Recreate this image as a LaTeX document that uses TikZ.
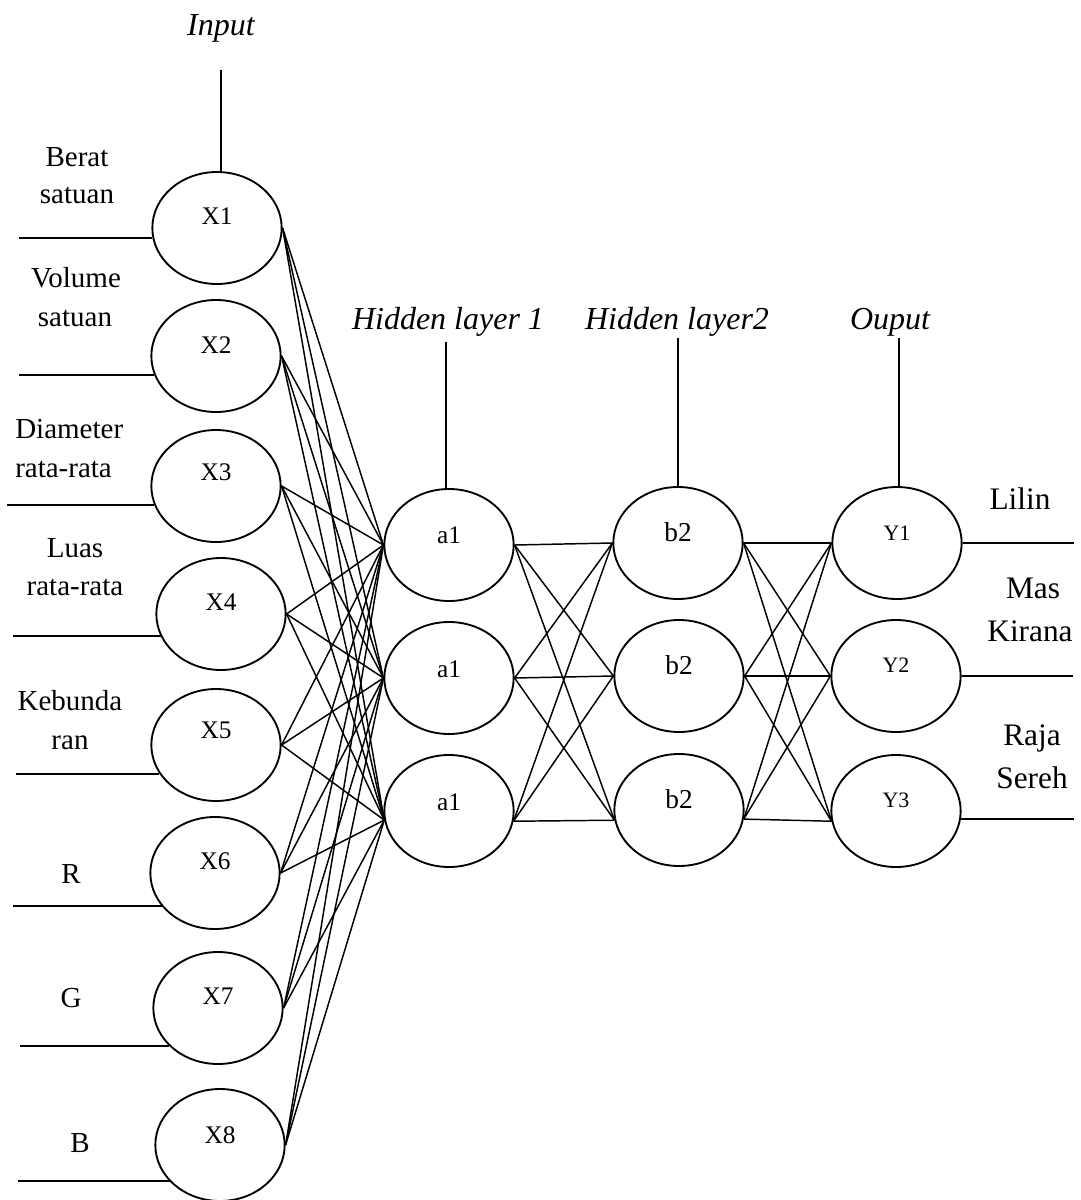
\documentclass[tikz,border=0pt]{standalone}
\usepackage{fontspec}
\setmainfont{Liberation Serif}
\usetikzlibrary{shapes.geometric}
\begin{document}
\begin{tikzpicture}[x=0.75pt,y=-0.75pt,
  neuron/.style={ellipse, draw, line width=1.4pt, minimum width=97pt,
    minimum height=84pt, inner sep=0pt, text height=0pt, text depth=#1},
  neuron/.default=6pt,
  xfont/.style={font=\fontsize{19}{22}\selectfont},
  afont/.style={font=\fontsize{19}{22}\selectfont},
  bfont/.style={font=\fontsize{20.5}{24}\selectfont},
  yfont/.style={font=\fontsize{16.5}{20}\selectfont},
  lbl/.style={anchor=base, inner sep=0pt, font=\fontsize{21.75}{26}\selectfont},
  rlbl/.style={anchor=base, inner sep=0pt, font=\fontsize{23.5}{28}\selectfont},
  layercap/.style={anchor=base, inner sep=0pt, font=\fontsize{24}{28}\selectfont\itshape},
  wire/.style={line width=1.1pt},
  lead/.style={line width=1.4pt}
]
\useasboundingbox (0,0) rectangle (1081,1200);

% input layer
\node[neuron=6pt,   xfont] (X1) at (217,228)  {X1};
\node[neuron=4.5pt, xfont] (X2) at (216,356)  {X2};
\node[neuron=9pt,   xfont] (X3) at (216,486)  {X3};
\node[neuron=6pt,   xfont] (X4) at (221,614)  {X4};
\node[neuron=10.5pt,xfont] (X5) at (216,745)  {X5};
\node[neuron=6pt,   xfont] (X6) at (215,873)  {X6};
\node[neuron=6pt,   xfont] (X7) at (218,1008) {X7};
\node[neuron=3pt,   xfont] (X8) at (220,1145) {X8};

% hidden layer 1
\node[neuron=3pt,   afont] (A1) at (449,545) {a1};
\node[neuron=1.5pt, afont] (A2) at (449,678) {a1};
\node[neuron=1.5pt, afont] (A3) at (449,811) {a1};

% hidden layer 2
\node[neuron=3pt, bfont] (B1) at (678,543) {b2};
\node[neuron=3pt, bfont] (B2) at (679,676) {b2};
\node[neuron=3pt, bfont] (B3) at (679,810) {b2};

% output layer
\node[neuron=4.5pt, yfont] (Y1) at (897,543) {Y1};
\node[neuron=6pt,   yfont] (Y2) at (896,676) {Y2};
\node[neuron=6pt,   yfont] (Y3) at (896,811) {Y3};

% fully connected weights
\foreach \i in {1,...,8}
  \foreach \t in {A1.west, A2.west, A3.188}
    \draw[wire] (X\i.east) -- (\t);
\foreach \s in {A1.east, A2.east, A3.351}
  \foreach \t in {B1.west, B2.west, B3.189}
    \draw[wire] (\s) -- (\t);
\foreach \s in {B1.east, B2.east, B3.352}
  \foreach \t in {Y1.west, Y2.west, Y3.189}
    \draw[wire] (\s) -- (\t);

% layer captions and their stems
\node[layercap] (cIn)  at (221,35)  {Input};
\node[layercap] (cH1)  at (448,329) {Hidden layer 1};
\node[layercap] (cH2)  at (677,329) {Hidden layer2};
\node[layercap] (cOut) at (890,329) {Ouput};
\coordinate (sIn)  at (221,70);
\coordinate (sH1)  at (446,342);
\coordinate (sH2)  at (678,338);
\coordinate (sOut) at (899,338);
\draw[wire] (sIn)  -- (sIn  |- X1.north);
\draw[wire] (sH1)  -- (sH1  |- A1.north);
\draw[wire] (sH2)  -- (sH2  |- B1.north);
\draw[wire] (sOut) -- (sOut |- Y1.north);

% input feature leads
\coordinate (l1) at (19,238);
\coordinate (l2) at (19,375);
\coordinate (l3) at (7,505);
\coordinate (l4) at (13,636);
\coordinate (l5) at (16,774);
\coordinate (l6) at (13,906);
\coordinate (l7) at (20,1046);
\coordinate (l8) at (18,1181);
\draw[lead] (l1) -- (l1 -| X1.189);
\draw[lead] (l2) -- (l2 -| X2.197);
\draw[lead] (l3) -- (l3 -| X3.197);
\draw[lead] (l4) -- (l4 -| X4.200);
\draw[lead] (l5) -- (l5 -| X5.207);
\draw[lead] (l6) -- (l6 -| X6.212);
\draw[lead] (l7) -- (l7 -| X7.218);
\draw[lead] (l8) -- (l8 -| X8.216);

% input feature names
\node[lbl] (tBe1) at (77,166) {Berat};
\node[lbl] (tBe2) at (77,203) {satuan};
\node[lbl] (tVo1) at (76,287) {Volume};
\node[lbl] (tVo2) at (75,326) {satuan};
\node[lbl, anchor=base west] (tDi1) at (15,438) {Diameter};
\node[lbl, anchor=base west] (tDi2) at (15,477) {rata-rata};
\node[lbl] (tLu1) at (75,557) {Luas};
\node[lbl] (tLu2) at (75,595) {rata-rata};
\node[lbl] (tKe1) at (70,710) {Kebunda};
\node[lbl] (tKe2) at (70,749) {ran};
\node[lbl] (tR)   at (71,883)  {R};
\node[lbl] (tG)   at (71,1007) {G};
\node[lbl] (tB)   at (80,1152) {B};

% output leads and class names
\coordinate (r1) at (1074,545);
\coordinate (r2) at (1073,677);
\coordinate (r3) at (1074,819);
\draw[lead] (Y1.east) -- (Y1.east -| r1);
\draw[lead] (Y2.east) -- (Y2.east -| r2);
\draw[lead] (Y3.-7) -- (Y3.-7 -| r3);
\node[rlbl] (tLi) at (1020,509) {Lilin};
\node[rlbl] (tMa) at (1033,598) {Mas};
\node[rlbl] (tKi) at (1030,641) {Kirana};
\node[rlbl] (tRa) at (1032,745) {Raja};
\node[rlbl] (tSe) at (1032,788) {Sereh};
\end{tikzpicture}
\end{document}
